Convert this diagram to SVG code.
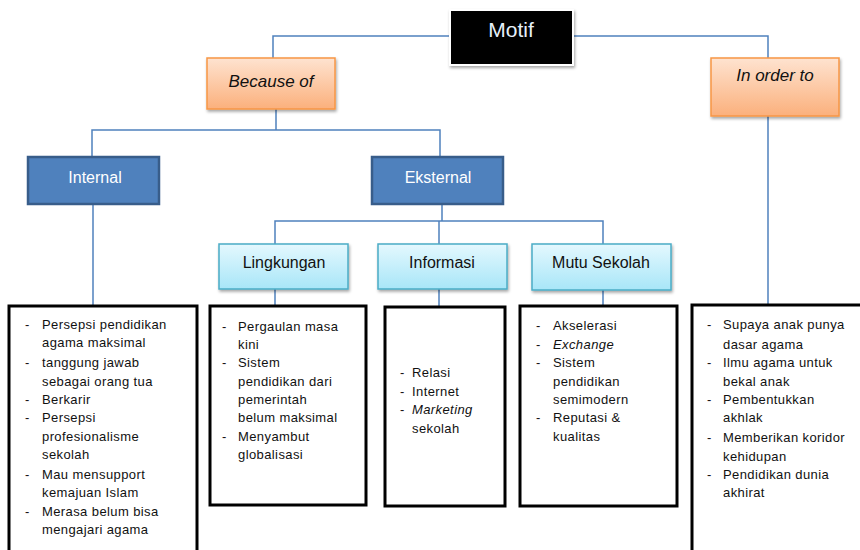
<svg xmlns="http://www.w3.org/2000/svg" width="860" height="550" viewBox="0 0 860 550">
<style>
.ln{fill:none;stroke:#4F81BD;stroke-width:1.5}
.t{font-family:"Liberation Sans",Arial,sans-serif}
.lst{font-family:"Liberation Sans",Arial,sans-serif;font-size:13px;letter-spacing:0.4px;fill:#111}
.box{fill:#fff;stroke:#000;stroke-width:3}
.orange{fill:url(#gOr);stroke:#F79646;stroke-width:1.5}
.dark{fill:#4F81BD;stroke:#385D8A;stroke-width:2.5}
.cyan{fill:url(#gCy);stroke:#4BACC6;stroke-width:1.5}
</style>
<defs>
<linearGradient id="gOr" x1="0" y1="0" x2="0" y2="1"><stop offset="0" stop-color="#FEE3D0"/><stop offset="1" stop-color="#FBB07C"/></linearGradient>
<linearGradient id="gCy" x1="0" y1="0" x2="0" y2="1"><stop offset="0" stop-color="#E4F8FE"/><stop offset="1" stop-color="#A8E6F8"/></linearGradient>
<filter id="sh" x="-10%" y="-10%" width="130%" height="140%"><feDropShadow dx="1" dy="2" stdDeviation="1.5" flood-color="#000" flood-opacity="0.35"/></filter>
</defs>
<rect width="860" height="550" fill="#fff"/>
<g id="connectors">
<path class="ln" d="M273,58 V36 H450 M573,36 H768 V58"/>
<path class="ln" d="M276,109 V130 M92,157 V130 H440 V157"/>
<path class="ln" d="M93,204 V306"/>
<path class="ln" d="M442,204 V221 M275,244 V221 H603 V244 M439,221 V244"/>
<path class="ln" d="M275,289 V306 M439,289 V307 M603,290 V306"/>
<path class="ln" d="M768,116 V305"/>
</g>
<g id="motif">
<rect x="450" y="10" width="123" height="55" fill="#000" stroke="#fff" stroke-width="2" filter="url(#sh)"/>
<text class="t" x="511" y="37" font-size="21" fill="#E6F0FA" text-anchor="middle">Motif</text>
</g>
<g id="because-of">
<rect class="orange" x="207" y="58" width="128" height="51" filter="url(#sh)"/>
<text class="t" x="271" y="87" font-size="17" font-style="italic" fill="#111" text-anchor="middle">Because of</text>
</g>
<g id="in-order-to">
<rect class="orange" x="711" y="58" width="128" height="58" filter="url(#sh)"/>
<text class="t" x="775" y="81" font-size="17" font-style="italic" fill="#111" text-anchor="middle">In order to</text>
</g>
<g id="internal">
<rect class="dark" x="28" y="157" width="131" height="47"/>
<text class="t" x="95" y="183" font-size="16" fill="#fff" text-anchor="middle">Internal</text>
</g>
<g id="eksternal">
<rect class="dark" x="372" y="157" width="131" height="47"/>
<text class="t" x="438" y="183" font-size="16" fill="#fff" text-anchor="middle">Eksternal</text>
</g>
<g id="lingkungan">
<rect class="cyan" x="219" y="244" width="129" height="45" filter="url(#sh)"/>
<text class="t" x="284" y="268" font-size="16" fill="#111" text-anchor="middle">Lingkungan</text>
</g>
<g id="informasi">
<rect class="cyan" x="378" y="244" width="129" height="45" filter="url(#sh)"/>
<text class="t" x="442" y="268" font-size="16" fill="#111" text-anchor="middle">Informasi</text>
</g>
<g id="mutu-sekolah">
<rect class="cyan" x="532" y="244" width="139" height="46" filter="url(#sh)"/>
<text class="t" x="601" y="268" font-size="16" fill="#111" text-anchor="middle">Mutu Sekolah</text>
</g>
<g id="list-internal">
<rect class="box" x="9" y="306" width="188" height="260"/>
<g class="lst">
<text x="25" y="329">-</text><text x="42" y="329">Persepsi pendidikan</text>
<text x="42" y="347">agama  maksimal</text>
<text x="25" y="367">-</text><text x="42" y="367">tanggung jawab</text>
<text x="42" y="386">sebagai orang tua</text>
<text x="25" y="404">-</text><text x="42" y="404">Berkarir</text>
<text x="25" y="422">-</text><text x="42" y="422">Persepsi</text>
<text x="42" y="441">profesionalisme</text>
<text x="42" y="459">sekolah</text>
<text x="25" y="479">-</text><text x="42" y="479">Mau mensupport</text>
<text x="42" y="497">kemajuan  Islam</text>
<text x="25" y="516">-</text><text x="42" y="516">Merasa belum bisa</text>
<text x="42" y="534">mengajari agama</text>
</g>
</g>
<g id="list-lingkungan">
<rect class="box" x="210" y="306" width="156" height="199"/>
<g class="lst">
<text x="222" y="331">-</text><text x="238" y="331">Pergaulan masa</text>
<text x="238" y="349">kini</text>
<text x="222" y="367">-</text><text x="238" y="367">Sistem</text>
<text x="238" y="386">pendidikan dari</text>
<text x="238" y="404">pemerintah</text>
<text x="238" y="422">belum maksimal</text>
<text x="222" y="441">-</text><text x="238" y="441">Menyambut</text>
<text x="238" y="459">globalisasi</text>
</g>
</g>
<g id="list-informasi">
<rect class="box" x="385" y="307" width="120" height="199"/>
<g class="lst">
<text x="400" y="377">-</text><text x="412" y="377">Relasi</text>
<text x="400" y="396">-</text><text x="412" y="396">Internet</text>
<text x="400" y="414">-</text><text x="412" y="414" font-style="italic">Marketing</text>
<text x="412" y="433">sekolah</text>
</g>
</g>
<g id="list-mutu">
<rect class="box" x="520" y="306" width="157" height="200"/>
<g class="lst">
<text x="536" y="330">-</text><text x="553" y="330">Akselerasi</text>
<text x="536" y="349">-</text><text x="553" y="349" font-style="italic">Exchange</text>
<text x="536" y="367">-</text><text x="553" y="367">Sistem</text>
<text x="553" y="386">pendidikan</text>
<text x="553" y="404">semimodern</text>
<text x="536" y="422">-</text><text x="553" y="422">Reputasi  &amp;</text>
<text x="553" y="441">kualitas</text>
</g>
</g>
<g id="list-in-order-to">
<rect class="box" x="692" y="305" width="180" height="260"/>
<g class="lst">
<text x="707" y="329">-</text><text x="723" y="329">Supaya anak punya</text>
<text x="723" y="349">dasar agama</text>
<text x="707" y="367">-</text><text x="723" y="367">Ilmu agama  untuk</text>
<text x="723" y="386">bekal anak</text>
<text x="707" y="404">-</text><text x="723" y="404">Pembentukkan</text>
<text x="723" y="422">akhlak</text>
<text x="707" y="442">-</text><text x="723" y="442">Memberikan koridor</text>
<text x="723" y="461">kehidupan</text>
<text x="707" y="479">-</text><text x="723" y="479">Pendidikan dunia</text>
<text x="723" y="497">akhirat</text>
</g>
</g>
</svg>
